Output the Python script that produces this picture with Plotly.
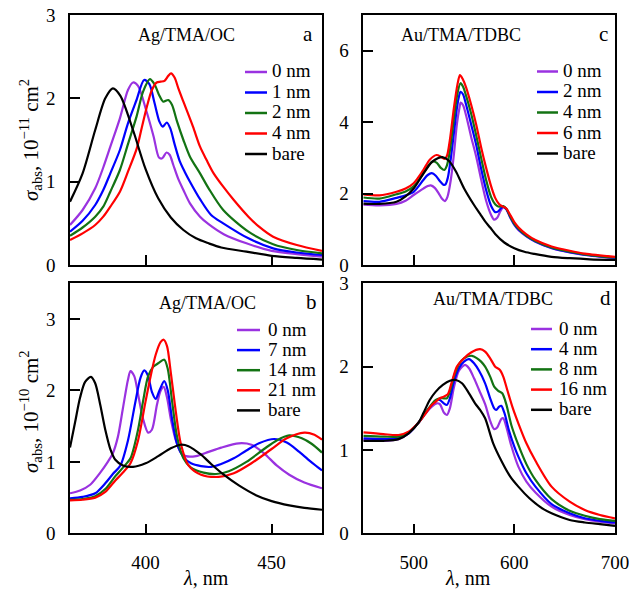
import plotly.graph_objects as go

W, H = 629, 590

# ---------------- Panel a: Ag/TMA/OC (10^-11 cm^2) ----------------
a_labels = ["0 nm", "1 nm", "2 nm", "4 nm", "bare"]

a_0_wl = [370, 375, 380, 383.2, 386, 389.8, 393, 395, 397, 400.2, 403.2, 405.3, 406.6, 408.3, 409.6,
          411, 413, 415, 417.6, 421.6, 425, 431, 440, 450, 460, 470]
a_0 = [0.48, 0.66, 0.92, 1.17, 1.42, 1.76, 2.10, 2.19, 2.15, 1.86, 1.54, 1.29, 1.28, 1.35, 1.32,
       1.20, 1.03, 0.90, 0.74, 0.58, 0.49, 0.37, 0.26, 0.17, 0.13, 0.10]

a_1_wl = [370, 375, 380, 383.2, 386, 389.8, 393, 396.4, 399.4, 401.5, 403.5, 405.5, 406.8, 408.4, 409.8,
          411.5, 413.5, 415.5, 417.6, 421.6, 426, 430.8, 440.8, 450.6, 460, 470]
a_1 = [0.40, 0.53, 0.72, 0.90, 1.10, 1.38, 1.70, 1.98, 2.22, 2.17, 1.95, 1.72, 1.66, 1.71, 1.64,
       1.45, 1.25, 1.12, 1.00, 0.79, 0.60, 0.50, 0.32, 0.20, 0.15, 0.12]

a_2_wl = [370, 375, 380, 383.2, 386, 389.8, 393, 396.4, 399, 401.7, 403.5, 405.5, 407, 409, 410.5,
          412.5, 415, 417.6, 421.6, 425, 430.8, 440.8, 450.6, 460, 470]
a_2 = [0.35, 0.45, 0.58, 0.70, 0.88, 1.14, 1.45, 1.78, 2.08, 2.23, 2.17, 2.03, 1.96, 1.98, 1.92,
       1.72, 1.50, 1.30, 1.10, 0.92, 0.66, 0.40, 0.25, 0.18, 0.14]

a_4_wl = [370, 375, 380, 383.2, 386, 389.8, 393, 396.5, 398.5, 400.5, 402.5, 404.4, 406, 407.5, 409,
          410.1, 411.5, 413, 415, 418.8, 421.6, 424.2, 427, 430.8, 435, 440.8, 445, 450.6, 460, 470]
a_4 = [0.30, 0.38, 0.48, 0.58, 0.70, 0.88, 1.12, 1.40, 1.65, 1.90, 2.10, 2.19, 2.20, 2.21, 2.27,
       2.30, 2.25, 2.12, 1.96, 1.66, 1.42, 1.26, 1.10, 0.94, 0.78, 0.58, 0.46, 0.34, 0.24, 0.17]

a_bare_wl = [370, 375, 380, 384, 387, 390, 395, 400, 405, 410, 415, 420, 425, 430, 440, 450, 460, 470]
a_bare = [0.76, 1.10, 1.62, 2.00, 2.12, 2.03, 1.62, 1.15, 0.80, 0.57, 0.42, 0.32, 0.26, 0.21, 0.16,
          0.11, 0.085, 0.065]

# ---------------- Panel c: Au/TMA/TDBC (10^-11 cm^2) ----------------
c_labels = ["0 nm", "2 nm", "4 nm", "6 nm", "bare"]

c_0_wl = [450, 466, 483, 492, 500, 509.6, 514, 517, 521, 525, 528, 531, 533.5, 537, 540, 543, 545.5,
          546.7, 549, 552, 557, 562, 567, 572, 577, 580, 583, 586, 589, 592, 596, 600, 604, 612, 621,
          637, 655, 670, 700]
c_0 = [1.69, 1.67, 1.71, 1.80, 1.96, 2.14, 2.21, 2.23, 2.16, 2.00, 1.86, 1.79, 1.90, 2.40, 3.10, 3.95,
       4.40, 4.55, 4.48, 4.20, 3.60, 3.05, 2.40, 1.80, 1.40, 1.27, 1.32, 1.50, 1.62, 1.56, 1.32, 1.12,
       0.98, 0.80, 0.65, 0.47, 0.35, 0.28, 0.19]

c_2_wl = [450, 466, 483, 492, 500, 509.6, 514, 518, 522, 526, 529.5, 531.5, 534, 537, 540, 543, 545,
          546.5, 549, 552, 557, 562, 567, 572, 577, 581, 584, 587, 589, 592, 596, 600, 604, 612, 621,
          637, 655, 670, 700]
c_2 = [1.79, 1.77, 1.88, 1.95, 2.05, 2.38, 2.52, 2.57, 2.50, 2.35, 2.25, 2.25, 2.45, 3.00, 3.70, 4.40,
       4.72, 4.85, 4.78, 4.50, 3.95, 3.38, 2.70, 2.10, 1.65, 1.48, 1.50, 1.60, 1.63, 1.57, 1.34, 1.14,
       1.00, 0.81, 0.66, 0.48, 0.36, 0.29, 0.20]

c_4_wl = [450, 466, 483, 492, 500, 509.6, 515, 519.5, 523, 527, 530.5, 533, 536, 540, 543.5, 546.5,
          549, 552, 557, 562, 567, 572, 577, 581, 584, 587, 589, 592, 596, 600, 604, 612, 621, 637, 655,
          670, 700]
c_4 = [1.89, 1.86, 1.98, 2.06, 2.20, 2.57, 2.80, 2.90, 2.86, 2.72, 2.66, 2.78, 3.20, 4.10, 4.80, 5.09,
       5.00, 4.75, 4.25, 3.65, 3.00, 2.38, 1.90, 1.70, 1.64, 1.64, 1.65, 1.58, 1.36, 1.16, 1.02, 0.82,
       0.67, 0.49, 0.37, 0.30, 0.21]

c_6_wl = [450, 466, 483, 492, 500, 509.6, 516, 522.8, 527, 530.5, 533, 536, 540, 543.5, 546, 548.5,
          552, 557, 562, 567, 572, 577, 581, 585, 589, 592, 596, 600, 604, 612, 621, 637, 655, 670, 700]
c_6 = [1.98, 1.95, 2.05, 2.14, 2.29, 2.66, 2.95, 3.08, 3.03, 2.97, 3.05, 3.50, 4.40, 5.05, 5.32, 5.22,
       4.98, 4.50, 3.95, 3.30, 2.72, 2.20, 1.88, 1.70, 1.63, 1.58, 1.40, 1.20, 1.06, 0.86, 0.70, 0.52,
       0.40, 0.32, 0.23]

c_bare_wl = [450, 466, 483, 492, 500, 510, 518, 524, 528.5, 535, 542, 550, 560, 566, 571, 576, 581,
             590, 600, 610, 620, 637, 655, 675, 700]
c_bare = [1.72, 1.71, 1.77, 1.92, 2.14, 2.57, 2.88, 2.99, 3.02, 2.92, 2.62, 2.15, 1.68, 1.43, 1.22,
          1.05, 0.87, 0.63, 0.47, 0.37, 0.31, 0.23, 0.19, 0.16, 0.14]

# ---------------- Panel b: Ag/TMA/OC (10^-10 cm^2) ----------------
b_labels = ["0 nm", "7 nm", "14 nm", "21 nm", "bare"]

b_0_wl = [370, 374, 378, 382, 385, 387, 389, 391, 393, 394, 395.5, 397, 399, 401, 402.5, 404.5, 406,
          407.2, 408.5, 410, 412, 414, 416, 420, 425, 430, 437, 442, 447, 452, 457, 463, 470]
b_0 = [0.56, 0.60, 0.68, 0.85, 1.00, 1.12, 1.35, 1.75, 2.15, 2.27, 2.20, 1.95, 1.60, 1.41, 1.45, 1.80,
       2.00, 2.05, 1.90, 1.60, 1.30, 1.13, 1.08, 1.08, 1.14, 1.20, 1.26, 1.24, 1.12, 0.95, 0.82, 0.71,
       0.63]

b_7_wl = [370, 375, 380, 384, 387, 390, 393, 396, 398, 399.5, 401, 402.5, 404, 405.5, 407.4, 408.8,
          410.5, 412.5, 415, 418, 422, 426, 430, 435, 440, 445, 451, 456, 461, 466, 470]
b_7 = [0.49, 0.51, 0.56, 0.70, 0.83, 0.95, 1.30, 1.85, 2.18, 2.28, 2.20, 1.98, 1.88, 2.00, 2.13, 2.00,
       1.60, 1.25, 1.07, 0.98, 0.94, 0.93, 0.97, 1.05, 1.16, 1.26, 1.32, 1.27, 1.14, 0.99, 0.88]

b_14_wl = [370, 375, 380, 384, 388, 391, 394, 397, 399, 401, 403, 405, 407.4, 408.8, 410.5, 412.5,
           415, 418, 423, 428, 433, 440, 447, 452, 457, 462, 466, 470]
b_14 = [0.47, 0.48, 0.52, 0.62, 0.80, 0.92, 1.05, 1.45, 1.85, 2.20, 2.33, 2.38, 2.43, 2.30, 1.85,
        1.35, 1.05, 0.92, 0.85, 0.83, 0.87, 1.00, 1.18, 1.30, 1.37, 1.33, 1.25, 1.13]

b_21_wl = [370, 375, 380, 384, 388, 391, 394, 397, 400, 402, 404, 406, 407.2, 408.5, 410, 412, 414,
           417, 422, 429, 435, 442, 450, 456, 463, 467, 470]
b_21 = [0.46, 0.47, 0.50, 0.58, 0.74, 0.85, 0.98, 1.30, 1.85, 2.20, 2.50, 2.68, 2.71, 2.62, 2.25,
        1.70, 1.25, 0.95, 0.82, 0.79, 0.84, 0.98, 1.18, 1.33, 1.41, 1.38, 1.31]

b_bare_wl = [370, 372, 374, 376, 378.3, 380, 382, 384, 386, 388, 391, 395, 400, 405, 410, 414, 417,
             422, 426, 431, 437, 444, 450, 457, 463, 470]
b_bare = [1.20, 1.55, 1.90, 2.12, 2.19, 2.10, 1.80, 1.45, 1.18, 1.03, 0.95, 0.93, 0.98, 1.08, 1.19,
          1.24, 1.22, 1.10, 0.97, 0.82, 0.67, 0.53, 0.45, 0.39, 0.355, 0.33]

# ---------------- Panel d: Au/TMA/TDBC (10^-10 cm^2) ----------------
d_labels = ["0 nm", "4 nm", "8 nm", "16 nm", "bare"]

d_0_wl = [450, 470, 485, 495, 505, 512, 518, 523, 526, 530, 533, 536, 540, 545, 551, 555, 560, 565,
          571, 576, 580, 583, 587, 589, 592, 597, 604, 612, 621, 637, 655, 670, 685, 700]
d_0 = [1.12, 1.11, 1.13, 1.20, 1.33, 1.44, 1.52, 1.56, 1.55, 1.45, 1.42, 1.50, 1.75, 1.95, 2.02, 1.98,
       1.86, 1.72, 1.55, 1.35, 1.25, 1.27, 1.37, 1.38, 1.28, 1.05, 0.80, 0.62, 0.49, 0.32, 0.22, 0.17,
       0.14, 0.12]

d_4_wl = [450, 470, 485, 495, 505, 512, 518, 523, 526, 530, 533, 536, 540, 545, 550, 555, 560, 565,
          571, 576, 580, 582, 585, 587, 590, 595, 600, 604, 612, 621, 637, 655, 670, 685, 700]
d_4 = [1.14, 1.13, 1.14, 1.20, 1.33, 1.45, 1.54, 1.60, 1.60, 1.56, 1.54, 1.62, 1.82, 1.98, 2.06, 2.09,
       2.04, 1.95, 1.80, 1.62, 1.50, 1.48, 1.52, 1.53, 1.45, 1.22, 1.04, 0.92, 0.72, 0.56, 0.35, 0.24,
       0.18, 0.15, 0.13]

d_8_wl = [450, 470, 485, 495, 505, 512, 518, 522, 526, 530, 533, 536, 540, 545, 550, 558, 563, 567,
          571, 576, 580, 584, 588, 592, 597, 604, 612, 621, 637, 655, 670, 685, 700]
d_8 = [1.17, 1.16, 1.16, 1.21, 1.33, 1.45, 1.55, 1.60, 1.62, 1.62, 1.62, 1.70, 1.88, 2.03, 2.10, 2.13,
       2.10, 2.06, 2.00, 1.88, 1.76, 1.71, 1.68, 1.55, 1.30, 1.06, 0.83, 0.64, 0.41, 0.27, 0.21, 0.17,
       0.15]

d_16_wl = [450, 470, 485, 495, 505, 512, 518, 522, 526, 530, 534, 538, 543, 550, 557, 566, 571, 576,
           581, 585.7, 589, 593, 598, 604, 612, 621, 637, 655, 670, 685, 700]
d_16 = [1.21, 1.19, 1.18, 1.22, 1.33, 1.44, 1.54, 1.58, 1.62, 1.64, 1.67, 1.82, 2.00, 2.10, 2.17, 2.21,
        2.18, 2.10, 2.00, 1.96, 1.88, 1.72, 1.52, 1.32, 1.08, 0.87, 0.56, 0.38, 0.28, 0.22, 0.18]

d_bare_wl = [450, 470, 485, 495, 505, 510, 516, 522, 529, 536, 542, 548, 555, 561, 566, 571, 579, 588,
             596, 604, 615, 621, 629, 637, 655, 670, 685, 700]
d_bare = [1.11, 1.11, 1.13, 1.20, 1.33, 1.45, 1.60, 1.70, 1.78, 1.83, 1.84, 1.80, 1.68, 1.56, 1.48,
          1.38, 1.08, 0.85, 0.68, 0.56, 0.42, 0.36, 0.29, 0.24, 0.16, 0.13, 0.11, 0.09]

# ---------------- styling ----------------
line_colors = ["#9a32e0", "#0000ff", "#137313", "#ff0000", "#000000"]
SERIF = "Liberation Serif"

panels = [
    # (xaxis id, yaxis id, labels, series, key layout: line x0, line x1, text x, first row y, row step)
    ("x", "y", a_labels,
     [(a_0_wl, a_0), (a_1_wl, a_1), (a_2_wl, a_2), (a_4_wl, a_4), (a_bare_wl, a_bare)],
     (245, 267, 270, 72, 20.5)),
    ("x2", "y2", c_labels,
     [(c_0_wl, c_0), (c_2_wl, c_2), (c_4_wl, c_4), (c_6_wl, c_6), (c_bare_wl, c_bare)],
     (537, 558, 561, 71.5, 20.5)),
    ("x3", "y3", b_labels,
     [(b_0_wl, b_0), (b_7_wl, b_7), (b_14_wl, b_14), (b_21_wl, b_21), (b_bare_wl, b_bare)],
     (237, 260, 266, 330, 20.1)),
    ("x4", "y4", d_labels,
     [(d_0_wl, d_0), (d_4_wl, d_4), (d_8_wl, d_8), (d_16_wl, d_16), (d_bare_wl, d_bare)],
     (531, 552, 557, 329, 20.2)),
]


def px_x(p):
    return p / W


def px_y(p):
    return 1 - p / H


fig = go.Figure()
for xa, ya, labels, series, (lx0, lx1, tx, ry0, rstep) in panels:
    for i, ((wl, sig), name, col) in enumerate(zip(series, labels, line_colors)):
        fig.add_trace(go.Scatter(
            x=wl, y=sig, mode="lines", name=name, showlegend=False,
            line=dict(color=col, width=2.2, shape="spline", smoothing=0.8),
            xaxis=xa, yaxis=ya,
        ))
        # key entry: short coloured line sample followed by its label
        ry = ry0 + i * rstep
        fig.add_shape(type="line", xref="paper", yref="paper",
                      x0=px_x(lx0), x1=px_x(lx1), y0=px_y(ry), y1=px_y(ry),
                      line=dict(color=col, width=2.5))
        fig.add_annotation(text=name, x=px_x(tx), y=px_y(ry), xref="paper", yref="paper",
                           xanchor="left", yanchor="middle", showarrow=False, yshift=1,
                           font=dict(family=SERIF, size=19, color="black"))

axis_common = dict(
    showline=True, linecolor="black", linewidth=1.5, mirror=True,
    ticks="inside", ticklen=10, tickwidth=1.5, tickcolor="black",
    showgrid=False, zeroline=False, automargin=False,
    tickfont=dict(family=SERIF, size=19, color="black"),
)

left_dom = [px_x(70), px_x(322)]
right_dom = [px_x(363.3), px_x(615)]
top_dom = [px_y(265), px_y(15)]
bot_dom = [px_y(533.3), px_y(283.3)]

fig.update_layout(
    xaxis=dict(domain=left_dom, range=[370, 470], tickvals=[400, 450], showticklabels=False,
               anchor="y", **axis_common),
    yaxis=dict(domain=top_dom, range=[0, 3], tickvals=[0, 1, 2, 3], anchor="x",
               ticklabelstandoff=9, **axis_common),
    xaxis2=dict(domain=right_dom, range=[450, 700], tickvals=[500, 600, 700], showticklabels=False,
                anchor="y2", **axis_common),
    yaxis2=dict(domain=top_dom, range=[0, 7], tickvals=[0, 2, 4, 6], anchor="x2",
                ticklabelstandoff=9, **axis_common),
    xaxis3=dict(domain=left_dom, range=[370, 470], tickvals=[400, 450], anchor="y3",
                ticklabelstandoff=11, **axis_common),
    yaxis3=dict(domain=bot_dom, range=[0, 3.5], tickvals=[0, 1, 2, 3], anchor="x3",
                ticklabelstandoff=9, **axis_common),
    xaxis4=dict(domain=right_dom, range=[450, 700], tickvals=[500, 600, 700], anchor="y4",
                ticklabelstandoff=11, ticklabeloverflow="allow", **axis_common),
    yaxis4=dict(domain=bot_dom, range=[0, 3], tickvals=[0, 1, 2, 3], anchor="x4",
                ticklabelstandoff=9, **axis_common),
)

annotations = [
    # panel titles and letters
    dict(text="Ag/TMA/OC", x=px_x(186), y=px_y(35), size=18),
    dict(text="a", x=px_x(308), y=px_y(34), size=21),
    dict(text="Au/TMA/TDBC", x=px_x(461), y=px_y(35), size=18),
    dict(text="c", x=px_x(603), y=px_y(34), size=21),
    dict(text="Ag/TMA/OC", x=px_x(208), y=px_y(303), size=18),
    dict(text="b", x=px_x(311), y=px_y(302), size=21),
    dict(text="Au/TMA/TDBC", x=px_x(493), y=px_y(299), size=18),
    dict(text="d", x=px_x(605), y=px_y(298), size=21),
    # axis titles
    dict(text="<i>λ</i>, nm", x=px_x(206), y=px_y(578), size=20),
    dict(text="<i>λ</i>, nm", x=px_x(468), y=px_y(578), size=20),
]
for a in annotations:
    fig.add_annotation(text=a["text"], x=a["x"], y=a["y"], xref="paper", yref="paper",
                       xanchor="center", yanchor="middle", showarrow=False,
                       font=dict(family=SERIF, size=a["size"], color="black"))

for label, yc in [("<i>σ</i><sub>abs</sub>, 10<sup>−11</sup> cm<sup>2</sup>", 140),
                  ("<i>σ</i><sub>abs</sub>, 10<sup>−10</sup> cm<sup>2</sup>", 412)]:
    fig.add_annotation(text=label, x=px_x(30), y=px_y(yc), xref="paper", yref="paper",
                       xanchor="center", yanchor="middle", showarrow=False, textangle=-90,
                       font=dict(family=SERIF, size=21, color="black"))

fig.update_layout(
    width=W, height=H, margin=dict(l=0, r=0, t=0, b=0, autoexpand=False),
    paper_bgcolor="white", plot_bgcolor="white", showlegend=False,
)

fig.write_html("out.html")
